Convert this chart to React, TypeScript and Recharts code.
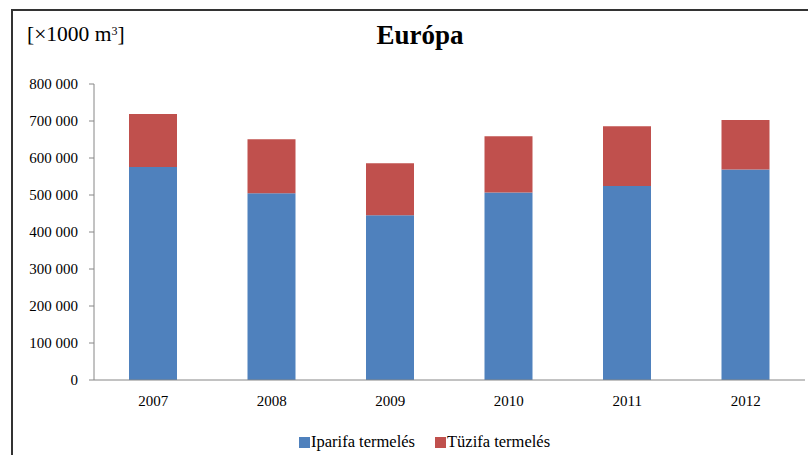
import React from 'react';
import { BarChart, Bar, XAxis, YAxis, Legend } from 'recharts';

const years = ['2007', '2008', '2009', '2010', '2011', '2012'];
const iparifa = [576000, 505000, 445000, 507000, 524000, 569000];
const tuzifa = [143000, 146000, 141000, 152000, 162000, 134000];
const yTicks = [0, 100000, 200000, 300000, 400000, 500000, 600000, 700000, 800000];
const boundaryTicks = [0, 1, 2, 3, 4, 5, 6];

const data = years.map((y, i) => ({ year: y, pos: i + 0.5, iparifa: iparifa[i], tuzifa: tuzifa[i] }));

const FONT = '"Liberation Serif", "Times New Roman", serif';
const BLUE = '#4F81BD';
const RED = '#C0504D';
const AXIS = '#868686';

const fmt = (v: number) => {
  const s = String(Math.round(v));
  return s.replace(/\B(?=(\d{3})+(?!\d))/g, ' ');
};

const LegendContent = () => (
  <div style={{ display: 'flex', alignItems: 'center', height: 20, paddingLeft: 299, fontFamily: FONT, fontSize: 16.5, color: '#000' }}>
    <span style={{ width: 11, height: 11, background: BLUE, display: 'inline-block', marginRight: 1 }} />
    <span style={{ marginRight: 20 }}>Iparifa termelés</span>
    <span style={{ width: 11, height: 11, background: RED, display: 'inline-block', marginRight: 1 }} />
    <span>Tüzifa termelés</span>
  </div>
);

export default function App() {
  return (
    <div style={{ position: 'fixed', left: 0, top: 0, width: 808, height: 455, overflow: 'hidden', background: '#fff', fontFamily: FONT }}>
      <div style={{ position: 'absolute', left: 11, top: 9, width: 900, height: 500, border: '2px solid #333', boxSizing: 'border-box' }} />
      <div style={{ position: 'absolute', left: 27, top: 22, fontSize: 21.5, color: '#000', whiteSpace: 'nowrap' }}>
        [×1000 m<sup style={{ fontSize: 12, verticalAlign: 'top', position: 'relative', top: 2 }}>3</sup>]
      </div>
      <div style={{ position: 'absolute', left: 320, width: 200, top: 20, textAlign: 'center', fontSize: 27, fontWeight: 'bold', color: '#000' }}>
        Európa
      </div>
      <div style={{ position: 'absolute', left: 0, top: 0 }}>
        <BarChart width={808} height={455} data={data} margin={{ top: 84, right: 3, left: 10, bottom: 25 }}>
          <XAxis
            xAxisId="b"
            type="number"
            dataKey="pos"
            domain={[0, 6]}
            ticks={boundaryTicks}
            allowDataOverflow
            height={1}
            tickSize={5}
            tick={false}
            axisLine={{ stroke: AXIS }}
            tickLine={{ stroke: AXIS }}
          />
          <XAxis
            xAxisId="cat"
            dataKey="year"
            height={29}
            axisLine={false}
            tickLine={false}
            tickSize={0}
            tickMargin={14}
            tick={{ fill: '#000', fontSize: 15, fontFamily: FONT }}
          />
          <YAxis
            domain={[0, 800000]}
            ticks={yTicks}
            tickFormatter={fmt}
            width={84}
            tickSize={5}
            tickMargin={11}
            axisLine={{ stroke: AXIS }}
            tickLine={{ stroke: AXIS }}
            tick={{ fill: '#000', fontSize: 15, fontFamily: FONT }}
          />
          <Bar xAxisId="cat" dataKey="iparifa" stackId="a" fill={BLUE} barSize={48} isAnimationActive={false} />
          <Bar xAxisId="cat" dataKey="tuzifa" stackId="a" fill={RED} barSize={48} isAnimationActive={false} />
          <Legend verticalAlign="bottom" content={<LegendContent />} wrapperStyle={{ left: 0, top: 432, width: 808, height: 20 }} />
        </BarChart>
      </div>
    </div>
  );
}
